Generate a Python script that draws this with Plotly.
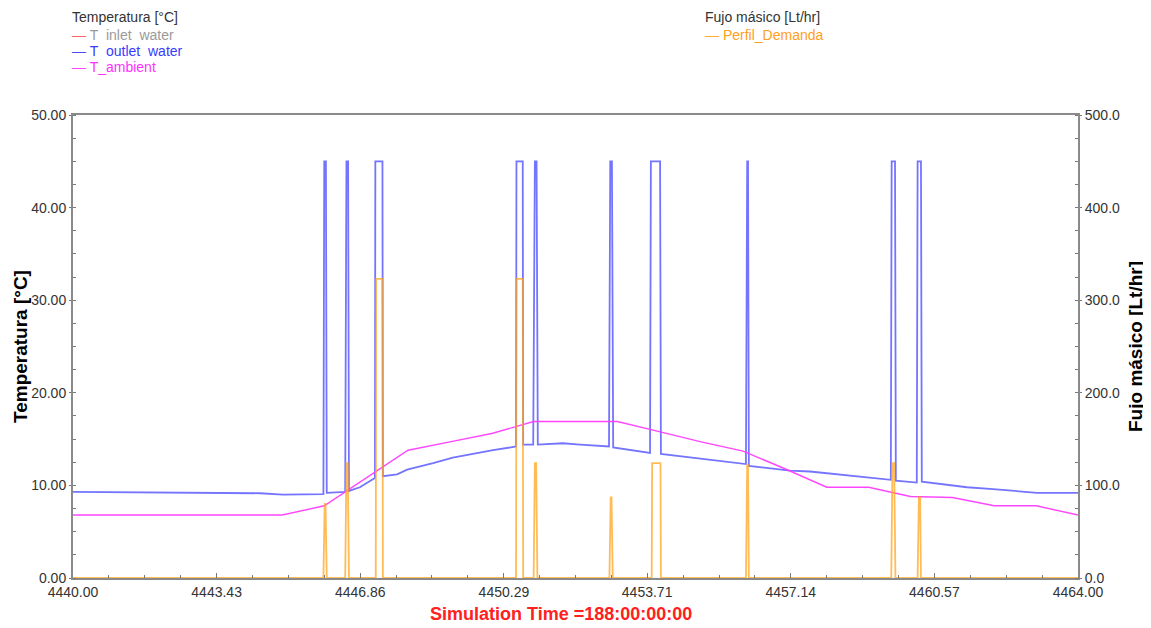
import plotly.graph_objects as go

# ---------------- data ----------------
outlet_time = [
    4440.00, 4444.47, 4445.01, 4445.98,
    4446.00, 4446.04, 4446.06,            # draw 1
    4446.50, 4446.53, 4446.57, 4446.59,   # draw 2
    4446.85, 4447.21,
    4447.22, 4447.39, 4447.40,            # draw 3
    4447.74, 4447.98, 4448.60, 4449.07, 4450.03, 4450.58,
    4450.59, 4450.74, 4450.75,            # draw 4
    4450.99, 4451.03, 4451.07, 4451.10,   # draw 5
    4451.70, 4452.11, 4452.80,
    4452.83, 4452.87, 4452.90,            # draw 6
    4453.78, 4453.80, 4454.02, 4454.04,   # draw 7
    4454.90, 4456.07,
    4456.10, 4456.12, 4456.14,            # draw 8
    4457.12, 4457.60, 4459.53,
    4459.55, 4459.63, 4459.65,            # draw 9
    4460.15, 4460.17, 4460.25, 4460.27,   # draw 10
    4461.35, 4461.97, 4463.02, 4464.00,
]
outlet_temp = [
    9.3, 9.15, 9.0, 9.05,
    45.0, 45.0, 9.2,
    9.3, 45.0, 45.0, 9.4,
    9.8, 10.8,
    45.0, 45.0, 11.0,
    11.2, 11.7, 12.4, 13.0, 13.8, 14.2,
    45.0, 45.0, 14.4,
    14.4, 45.0, 45.0, 14.4,
    14.55, 14.4, 14.2,
    45.0, 45.0, 14.1,
    13.5, 45.0, 45.0, 13.4,
    12.9, 12.3,
    45.0, 45.0, 12.1,
    11.6, 11.5, 10.6,
    45.0, 45.0, 10.5,
    10.3, 45.0, 45.0, 10.4,
    9.8, 9.6, 9.2, 9.2,
]

ambient_time = [4440, 4445, 4446, 4447, 4448, 4449, 4450, 4451, 4452, 4453,
                4454, 4455, 4456, 4457, 4458, 4459, 4460, 4461, 4462, 4463, 4464]
ambient_temp = [6.8, 6.8, 7.8, 10.8, 13.8, 14.7, 15.6, 16.9, 16.9, 16.9,
                15.8, 14.7, 13.7, 11.8, 9.8, 9.8, 8.8, 8.7, 7.8, 7.8, 6.8]

demand_time = [
    4440.00,
    4445.98, 4446.01, 4446.03, 4446.06,
    4446.50, 4446.53, 4446.56, 4446.59,
    4447.23, 4447.24, 4447.39, 4447.40,
    4450.58, 4450.59, 4450.74, 4450.75,
    4451.00, 4451.03, 4451.06, 4451.09,
    4452.81, 4452.84, 4452.86, 4452.89,
    4453.82, 4453.83, 4454.03, 4454.04,
    4456.07, 4456.10, 4456.12, 4456.14,
    4459.54, 4459.57, 4459.61, 4459.64,
    4460.17, 4460.20, 4460.23, 4460.25,
    4464.00,
]
demand_flow = [
    0,
    0, 80, 80, 0,
    0, 124, 124, 0,
    0, 323, 323, 0,
    0, 323, 323, 0,
    0, 124, 124, 0,
    0, 87, 87, 0,
    0, 124, 124, 0,
    0, 122, 122, 0,
    0, 124, 124, 0,
    0, 87, 87, 0,
    0,
]

x_tick_vals = [4440.00, 4443.43, 4446.86, 4450.29, 4453.71, 4457.14, 4460.57, 4464.00]
x_tick_text = ["4440.00", "4443.43", "4446.86", "4450.29", "4453.71", "4457.14", "4460.57", "4464.00"]

# ---------------- figure ----------------
W, H = 1151, 628
OFF = 8  # page body margin of the html page
# plot area in window pixels: x 73..1078, y 115..578
PL, PR, PT, PB = 73, 1078, 115, 578
L = PL - OFF
T = PT - OFF
R = W - (PR - OFF)
B = H - (PB - OFF)
PW, PH = PR - PL, PB - PT

def px_x(px):
    return (px - PL) / PW

def px_y(py):
    return (PB - py) / PH

FONT = "Liberation Sans, Arial, sans-serif"

fig = go.Figure()
fig.add_trace(go.Scatter(
    x=outlet_time, y=outlet_temp, mode="lines", name="T  outlet  water",
    line=dict(color="rgba(70,70,255,0.75)", width=1.8), yaxis="y"))
fig.add_trace(go.Scatter(
    x=ambient_time, y=ambient_temp, mode="lines", name="T_ambient",
    line=dict(color="rgba(255,60,255,0.95)", width=1.4), yaxis="y"))
fig.add_trace(go.Scatter(
    x=demand_time, y=demand_flow, mode="lines", name="Perfil_Demanda",
    line=dict(color="rgba(255,165,30,0.75)", width=1.8), yaxis="y2"))

axis_common = dict(
    showgrid=False, zeroline=False, showline=True, linecolor="#8a8a8a",
    linewidth=2, tickfont=dict(family=FONT, size=14, color="#333333"),
    tickcolor="#777777",
)

fig.update_layout(
    width=W, height=H,
    margin=dict(l=L, r=R, t=T, b=B),
    paper_bgcolor="white", plot_bgcolor="white",
    showlegend=False,
    xaxis=dict(
        range=[4440, 4464], tickmode="array", tickvals=x_tick_vals, ticktext=x_tick_text,
        ticks="inside", ticklen=5, mirror=True,
        minor=dict(ticks="inside", ticklen=3, tick0=4440, dtick=24 / 28, tickcolor="#777777"),
        **axis_common),
    yaxis=dict(
        range=[0, 50], dtick=10, tickformat=".2f", ticks="outside", ticklen=2,
        minor=dict(ticks="inside", ticklen=3, dtick=2.5, tickcolor="#777777"),
        **axis_common),
    yaxis2=dict(
        range=[0, 500], dtick=100, tickformat=".1f", overlaying="y", side="right",
        ticks="outside", ticklen=2,
        minor=dict(ticks="inside", ticklen=3, dtick=25, tickcolor="#777777"),
        **axis_common),
)

ann = []
# axis titles
ann.append(dict(text="<b>Temperatura [°C]</b>", x=px_x(20), y=px_y(347), xref="paper", yref="paper",
                xanchor="center", yanchor="middle",
                textangle=-90, showarrow=False, font=dict(family=FONT, size=19, color="black")))
ann.append(dict(text="<b>Fujo másico [Lt/hr]</b>", x=px_x(1135), y=px_y(347), xref="paper", yref="paper",
                xanchor="center", yanchor="middle",
                textangle=-90, showarrow=False, font=dict(family=FONT, size=19, color="black")))
ann.append(dict(text="<b>Simulation Time =188:00:00:00</b>", x=px_x(561), y=px_y(614),
                xref="paper", yref="paper", xanchor="center", yanchor="middle", showarrow=False,
                font=dict(family=FONT, size=18, color="#ff2020")))

# legends (as text)
def legend_title(text, px, py):
    ann.append(dict(text=text, x=px_x(px), y=px_y(py), xref="paper", yref="paper",
                    xanchor="left", yanchor="middle", showarrow=False,
                    font=dict(family=FONT, size=14, color="#333333")))

def legend_item(text, line_color, text_color, px, py):
    ann.append(dict(text=f"<span style='color:{line_color}'>—</span> "
                         f"<span style='color:{text_color}'>{text}</span>",
                    x=px_x(px), y=px_y(py), xref="paper", yref="paper",
                    xanchor="left", yanchor="middle", showarrow=False,
                    font=dict(family=FONT, size=14)))

legend_title("Temperatura [°C]", 70, 17)
legend_item("T&nbsp; inlet&nbsp; water", "#ff6060", "#9a9a9a", 70, 35)
legend_item("T&nbsp; outlet&nbsp; water", "#4a4aff", "#3a3aff", 70, 51)
legend_item("T_ambient", "#ff40ff", "#ff30ff", 70, 67)
legend_title("Fujo másico [Lt/hr]", 703, 17)
legend_item("Perfil_Demanda", "#ffaa30", "#ffa020", 703, 35)

fig.update_layout(annotations=ann)
fig.write_html("out.html")
